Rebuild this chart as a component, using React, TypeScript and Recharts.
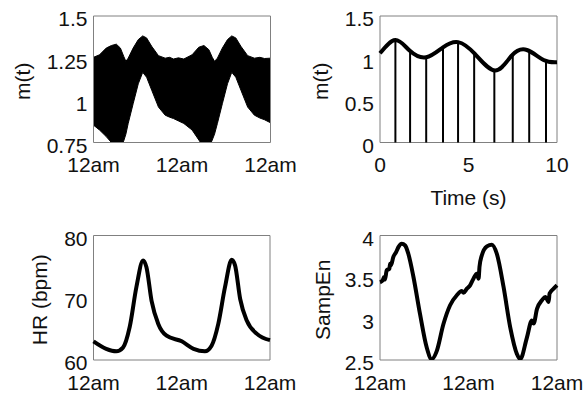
import {
  ComposedChart,
  Area,
  Line,
  XAxis,
  YAxis,
  ReferenceArea,
  ReferenceLine,
} from "recharts";

// top left: envelope of the dense m(t) trace over two days (fraction of the span)
const envTime = [
  0, 0.034, 0.072, 0.101, 0.129, 0.152, 0.171, 0.183, 0.196, 0.224, 0.253, 0.278, 0.3,
  0.329, 0.367, 0.405, 0.43, 0.452, 0.48, 0.51, 0.557, 0.595, 0.624, 0.652, 0.671, 0.684, 0.7,
  0.728, 0.757, 0.781, 0.804, 0.833, 0.871, 0.909, 0.94, 0.966, 1,
];
const envLow = [
  0.853, 0.824, 0.785, 0.75, 0.72, 0.72, 0.76, 0.8, 0.863, 0.98, 1.098, 1.166, 1.137,
  1.06, 0.96, 0.912, 0.9, 0.892, 0.878, 0.863, 0.824, 0.765, 0.72, 0.72, 0.765, 0.8, 0.863,
  0.98, 1.098, 1.166, 1.137, 1.06, 0.96, 0.912, 0.895, 0.885, 0.867,
];
const envHigh = [
  1.255, 1.27, 1.31, 1.325, 1.333, 1.31, 1.26, 1.231, 1.25, 1.31, 1.36, 1.382, 1.37,
  1.32, 1.265, 1.25, 1.255, 1.245, 1.252, 1.245, 1.27, 1.315, 1.325, 1.3, 1.255, 1.231, 1.25,
  1.31, 1.36, 1.382, 1.37, 1.32, 1.265, 1.25, 1.255, 1.248, 1.25,
];

// top right: smooth m(t) over 10 s and the sampled stems
const curveTime = [0, 0.87, 1.67, 2.61, 3.56, 4.41, 5.36, 6.5, 7.44, 8.3, 9.24, 10];
const curveValue = [1.057, 1.214, 1.09, 1.01, 1.128, 1.19, 1.05, 0.854, 1.03, 1.097, 0.979, 0.952];
const stemTime = [0.87, 1.7, 2.61, 3.56, 4.41, 5.32, 6.46, 7.5, 8.43, 9.38];
const stemValue = [1.21, 1.09, 1.01, 1.13, 1.19, 1.06, 0.855, 1.04, 1.09, 0.97];

// bottom left: heart rate
const hrTime = [
  0, 0.072, 0.129, 0.167, 0.205, 0.243, 0.281, 0.3, 0.329, 0.367, 0.414, 0.5, 0.567,
  0.631, 0.669, 0.707, 0.745, 0.783, 0.802, 0.831, 0.869, 0.926, 1,
];
const hrValue = [
  63.0, 61.8, 61.4, 62.0, 65.3, 71.7, 76.0, 74.9, 69.5, 65.8, 63.9, 63.0, 61.8,
  61.4, 62.3, 65.8, 71.7, 76.1, 75.2, 69.8, 66.3, 64.2, 63.2,
];

// bottom right: sample entropy
const sampTime = [
  0, 0.015, 0.023, 0.028, 0.038, 0.053, 0.057, 0.062, 0.075, 0.091, 0.104, 0.123,
  0.142, 0.16, 0.189, 0.226, 0.264, 0.292, 0.321, 0.358, 0.396, 0.434, 0.462, 0.472,
  0.491, 0.509, 0.528, 0.547, 0.557, 0.562, 0.575, 0.604, 0.632, 0.66, 0.698, 0.736,
  0.774, 0.792, 0.83, 0.858, 0.868, 0.887, 0.915, 0.934, 0.953, 0.958, 0.981, 1,
];
const sampValue = [
  3.437, 3.457, 3.5, 3.47, 3.58, 3.6, 3.66, 3.64, 3.74, 3.8, 3.86, 3.9,
  3.88, 3.78, 3.5, 3.055, 2.65, 2.51, 2.61, 2.93, 3.16, 3.28, 3.33, 3.31,
  3.36, 3.4, 3.48, 3.54, 3.48, 3.62, 3.76, 3.87, 3.89, 3.78, 3.38, 2.89,
  2.57, 2.51, 2.77, 2.975, 2.94, 3.115, 3.22, 3.26, 3.2, 3.3, 3.36, 3.4,
];

const dayTicks = [0, 0.5, 1];
const dayLabel = "12am";

const envData = envTime.map((t, i) => ({ t, band: [envLow[i], envHigh[i]] }));
const curveData = curveTime.map((t, i) => ({ t, v: curveValue[i] }));
const hrData = hrTime.map((t, i) => ({ t, v: hrValue[i] }));
const sampData = sampTime.map((t, i) => ({ t, v: sampValue[i] }));

const W = 588;
const H = 396;
const Y_W = 60;
const X_H = 30;
const FONT = 21;
const TEXT = "#111";
const FRAME = "#808080";

function frame(l: number, t: number, r: number, b: number) {
  return { left: l - Y_W, top: t, right: W - r, bottom: H - b - X_H };
}

function yLabel(text: string, x: number) {
  return ({ viewBox }: any) => {
    const y = viewBox.y + viewBox.height / 2 + 2;
    return (
      <text
        x={x}
        y={y}
        transform={`rotate(-90 ${x} ${y})`}
        textAnchor="middle"
        dominantBaseline="central"
        fontSize={FONT}
        fill={TEXT}
      >
        {text}
      </text>
    );
  };
}

const xTick = { fontSize: FONT, fill: TEXT };
const yTick = { fontSize: FONT, fill: TEXT, dy: 3 };

function Layer({ children }: { children: React.ReactNode }) {
  return <div style={{ position: "absolute", left: 0, top: 0 }}>{children}</div>;
}

export default function App() {
  return (
    <div
      style={{
        position: "absolute",
        left: 0,
        top: 0,
        width: W,
        height: H,
        background: "#fff",
        fontFamily: "'Liberation Sans', Arial, sans-serif",
      }}
    >
      <Layer>
        <ComposedChart width={W} height={H} data={envData} margin={frame(93.5, 16, 270.5, 142.5)}>
          <XAxis
            dataKey="t"
            type="number"
            domain={[0, 1]}
            ticks={dayTicks}
            tickFormatter={() => dayLabel}
            axisLine={false}
            tickLine={false}
            tickSize={0}
            tickMargin={15}
            height={X_H}
            tick={xTick}
            interval={0}
          />
          <YAxis
            type="number"
            domain={[0.75, 1.5]}
            ticks={[0.75, 1, 1.25, 1.5]}
            allowDataOverflow
            axisLine={false}
            tickLine={false}
            tickSize={0}
            tickMargin={6}
            width={Y_W}
            tick={yTick}
            interval={0}
            label={yLabel("m(t)", 22)}
          />
          <Area
            dataKey="band"
            type="linear"
            stroke="#000"
            strokeWidth={1}
            fill="#000"
            fillOpacity={1}
            isAnimationActive={false}
          />
          <ReferenceArea x1={0} x2={1} y1={0.75} y2={1.5} fill="none" stroke={FRAME} />
        </ComposedChart>
      </Layer>

      <Layer>
        <ComposedChart width={W} height={H} data={curveData} margin={frame(380, 16, 557, 142.5)}>
          <XAxis
            dataKey="t"
            type="number"
            domain={[0, 10]}
            ticks={[0, 5, 10]}
            axisLine={false}
            tickLine={false}
            tickSize={0}
            tickMargin={15}
            height={X_H}
            tick={xTick}
            interval={0}
            label={({ viewBox }: any) => (
              <text
                x={viewBox.x + viewBox.width / 2}
                y={197}
                textAnchor="middle"
                dominantBaseline="central"
                fontSize={FONT}
                fill={TEXT}
              >
                Time (s)
              </text>
            )}
          />
          <YAxis
            type="number"
            domain={[0, 1.5]}
            ticks={[0, 0.5, 1, 1.5]}
            axisLine={false}
            tickLine={false}
            tickSize={0}
            tickMargin={6}
            width={Y_W}
            tick={yTick}
            interval={0}
            label={yLabel("m(t)", 320)}
          />
          {stemTime.map((t, i) => (
            <ReferenceLine
              key={t}
              segment={[
                { x: t, y: 0 },
                { x: t, y: stemValue[i] },
              ]}
              stroke="#000"
              strokeWidth={2}
            />
          ))}
          <Line
            dataKey="v"
            type="natural"
            stroke="#000"
            strokeWidth={4}
            dot={false}
            isAnimationActive={false}
          />
          <ReferenceArea x1={0} x2={10} y1={0} y2={1.5} fill="none" stroke={FRAME} />
        </ComposedChart>
      </Layer>

      <Layer>
        <ComposedChart width={W} height={H} data={hrData} margin={frame(93.5, 235.5, 270, 360)}>
          <XAxis
            dataKey="t"
            type="number"
            domain={[0, 1]}
            ticks={dayTicks}
            tickFormatter={() => dayLabel}
            axisLine={false}
            tickLine={false}
            tickSize={0}
            tickMargin={15}
            height={X_H}
            tick={xTick}
            interval={0}
          />
          <YAxis
            type="number"
            domain={[60, 80]}
            ticks={[60, 70, 80]}
            axisLine={false}
            tickLine={false}
            tickSize={0}
            tickMargin={6}
            width={Y_W}
            tick={yTick}
            interval={0}
            label={yLabel("HR (bpm)", 39)}
          />
          <Line
            dataKey="v"
            type="monotone"
            stroke="#000"
            strokeWidth={4}
            dot={false}
            isAnimationActive={false}
          />
          <ReferenceArea x1={0} x2={1} y1={60} y2={80} fill="none" stroke={FRAME} />
        </ComposedChart>
      </Layer>

      <Layer>
        <ComposedChart width={W} height={H} data={sampData} margin={frame(380, 235.5, 557, 360)}>
          <XAxis
            dataKey="t"
            type="number"
            domain={[0, 1]}
            ticks={dayTicks}
            tickFormatter={() => dayLabel}
            axisLine={false}
            tickLine={false}
            tickSize={0}
            tickMargin={15}
            height={X_H}
            tick={xTick}
            interval={0}
          />
          <YAxis
            type="number"
            domain={[2.5, 4]}
            ticks={[2.5, 3, 3.5, 4]}
            allowDataOverflow
            axisLine={false}
            tickLine={false}
            tickSize={0}
            tickMargin={6}
            width={Y_W}
            tick={yTick}
            interval={0}
            label={yLabel("SampEn", 322)}
          />
          <Line
            dataKey="v"
            type="monotone"
            stroke="#000"
            strokeWidth={4}
            dot={false}
            isAnimationActive={false}
          />
          <ReferenceArea x1={0} x2={1} y1={2.5} y2={4} fill="none" stroke={FRAME} />
        </ComposedChart>
      </Layer>
    </div>
  );
}
